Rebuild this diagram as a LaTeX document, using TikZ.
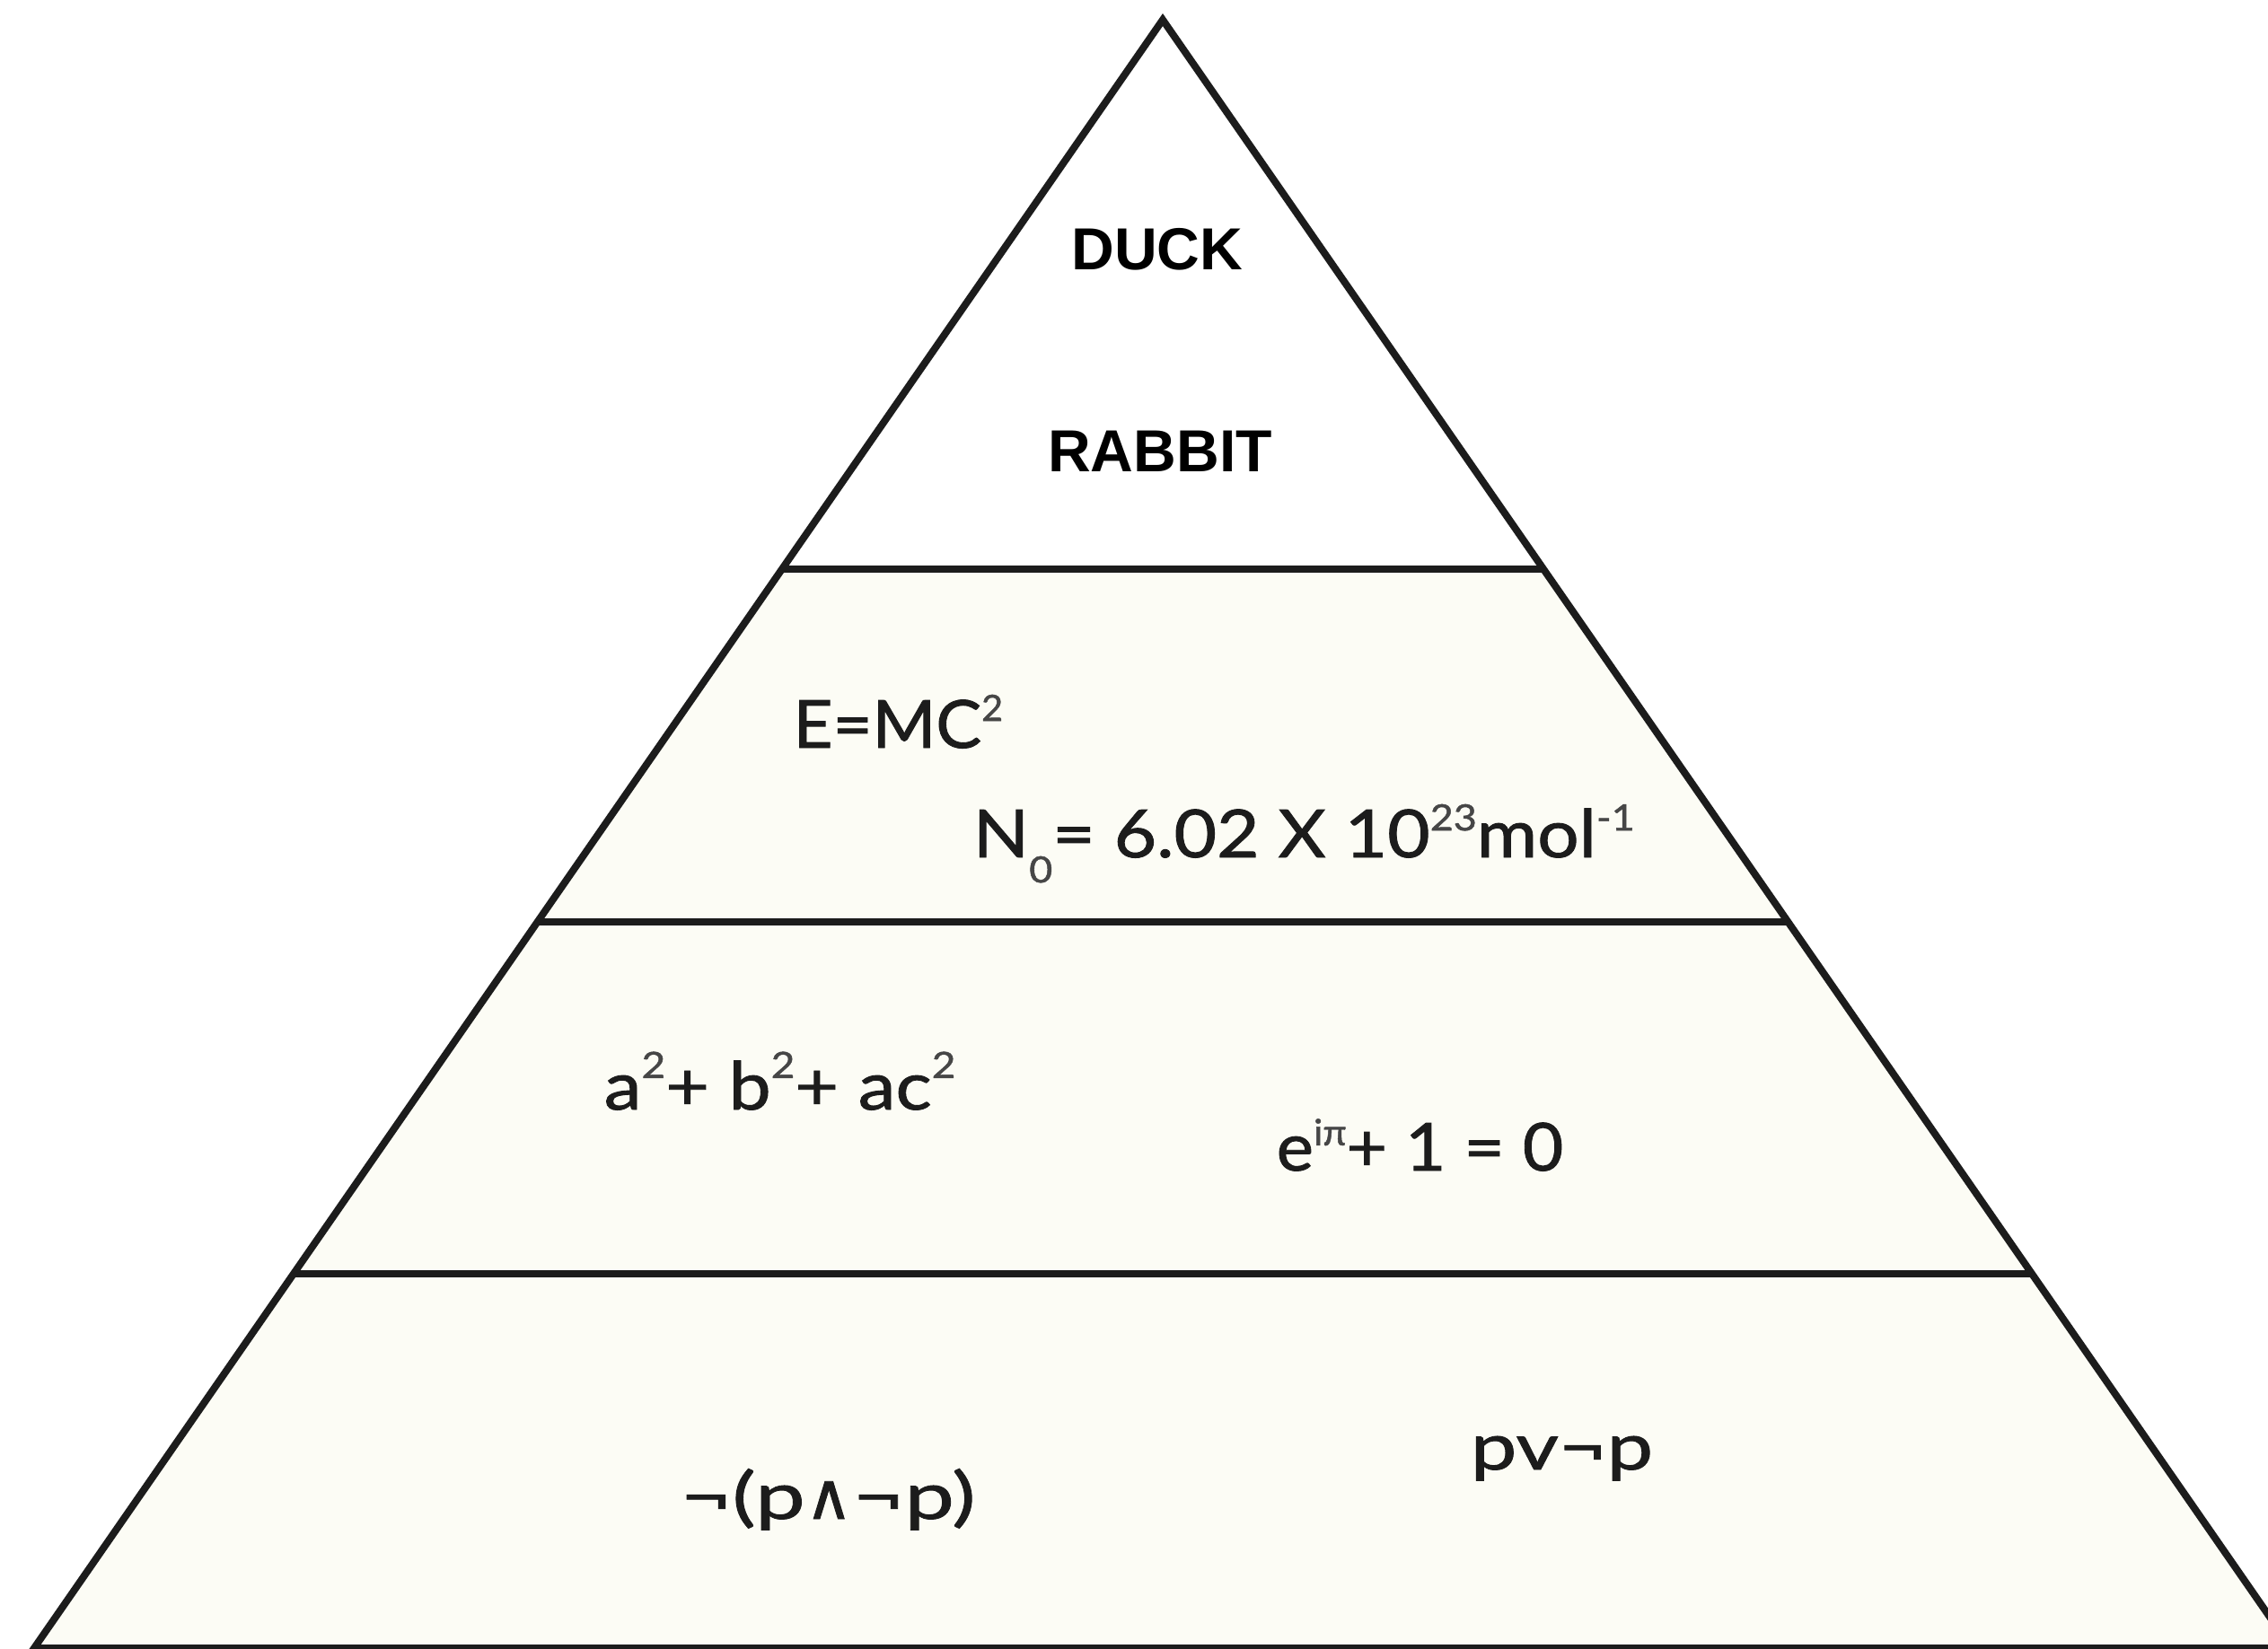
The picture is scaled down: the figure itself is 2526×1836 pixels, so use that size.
\documentclass[tikz,border=0pt]{standalone}
\usepackage{fontspec}
\newfontfamily\labelfont{Liberation Sans}
\newfontfamily\fmlfont{Lato}[FakeBold=1.2]
\newfontfamily\symfont{DejaVu Sans}[FakeBold=1.2]
\definecolor{paper}{RGB}{252,252,245}
\definecolor{ink}{RGB}{28,28,28}
\definecolor{supink}{RGB}{70,70,70}
\newcommand\mysup[2][8.5pt]{\raisebox{#1}{\fontsize{11.5pt}{12pt}\selectfont\color{supink}#2}}
\newcommand\mysub[1]{\raisebox{-8pt}{\fontsize{11.5pt}{12pt}\selectfont\color{supink}#1}}
\tikzset{
  edge/.style={draw=ink, line width=0.8mm, line join=miter},
  title/.style={font=\labelfont\bfseries\fontsize{18.8pt}{22pt}\selectfont, text=black, inner sep=0pt, anchor=base},
  formula/.style={font={\fmlfont\addfontfeature{FakeStretch=#1}\fontsize{21pt}{25pt}\selectfont}, text=ink, inner sep=0pt, anchor=base west},
  formula/.default=1,
  logic/.style={font={\fmlfont\addfontfeature{FakeStretch=#1}\fontsize{20.5pt}{24pt}\selectfont}, text=ink, inner sep=0pt, anchor=base west},
  logic/.default=1
}
\begin{document}
\begin{tikzpicture}[x=0.1mm,y=-0.1mm]
\useasboundingbox (0,0) rectangle (2526,1836);
\coordinate (apex) at (1295,22);
\coordinate (bl) at (38,1836);
\coordinate (br) at (2552,1836);
\coordinate (l1) at (871,634);
\coordinate (r1) at (1719,634);
\coordinate (l2) at (599,1027);
\coordinate (r2) at (1991,1027);
\coordinate (l3) at (327,1419);
\coordinate (r3) at (2263,1419);
\fill[paper] (apex) -- (bl) -- (br) -- cycle;
\fill[white] (apex) -- (l1) -- (r1) -- cycle;
\draw[edge] (l1) -- (r1);
\draw[edge] (l2) -- (r2);
\draw[edge] (l3) -- (r3);
\draw[edge] (apex) -- (bl) -- (br) -- cycle;
\node[title] (duck) at (1289,300) {DUCK};
\node[title] (rabbit) at (1292,525) {RABBIT};
\node[formula=1.03] (emc) at (883,833) {E=MC\mysup{2}};
\node[formula=1.11] (avog) at (1083,955) {N\mysub{0}= 6.02 X 10\mysup{23}mol\mysup{-1}};
\node[formula=1.14] (abc) at (672,1236) {a\mysup[10pt]{2}+ b\mysup[10pt]{2}+ ac\mysup[10pt]{2}};
\node[formula=1.06] (euler) at (1421,1304) {e\mysup[8pt]{iπ}+ 1 = 0};
\node[logic=1.38] (noncontra) at (757,1692) {¬(p{\symfont∧}¬p)};
\node[logic=1.28] (lem) at (1637,1637) {pv¬p};
\end{tikzpicture}
\end{document}
